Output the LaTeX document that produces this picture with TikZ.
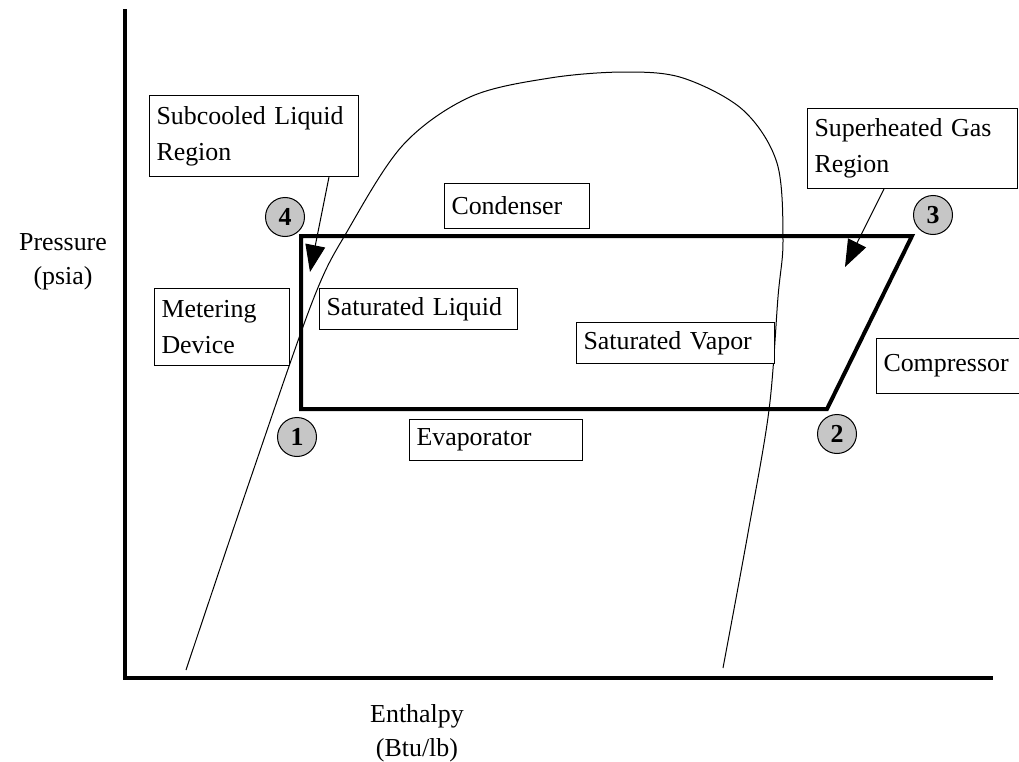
\documentclass[tikz,border=0pt]{standalone}
\usepackage{fontspec}
\setmainfont{Liberation Serif}
\usetikzlibrary{arrows.meta}

\newcommand{\ptnum}[1]{\raisebox{-3bp}{\bfseries #1}}

\begin{document}
\begin{tikzpicture}[x=0.5bp, y=-0.5bp,
    tag/.style={rectangle, draw, fill=white, line width=0.5bp, inner xsep=3.5bp, inner ysep=0pt,
                align=left, anchor=north west, font=\fontsize{13}{18}\selectfont},
    ptmark/.style={circle, draw, fill=gray!45, line width=0.5bp, minimum size=19.5bp, inner sep=0pt,
                   font=\fontsize{13}{15}\selectfont},
    axislbl/.style={align=center, font=\fontsize{13}{17}\selectfont},
    callout/.style={line width=0.5bp, -{Triangle[length=13.5bp,width=10bp]}}]
    \useasboundingbox (0,0) rectangle (1019,762);

    % axes
    \coordinate (origin) at (125,678);
    \coordinate (ytop) at (125,9);
    \coordinate (xend) at (993,678);
    \draw[line width=2bp] (ytop) -- (origin |- 0,680) (origin -| 123,0) -- (xend);
    \node[axislbl] (plbl) at (63,262) {Pressure\\(psia)};
    \node[axislbl] (hlbl) at (417,733) {Enthalpy\\(Btu/lb)};

    % saturation dome
    \draw[line width=0.5bp] plot[smooth, tension=0.55] coordinates {
        (186,670) (250,480) (313,300) (348,230) (403,145) (470,97) (550,78) (625,72)
        (683,78) (743,110) (777,163) (783,240) (778,297) (769,410) (748,533) (723,668)};

    % refrigeration cycle
    \coordinate (p1) at (301,409);
    \coordinate (p2) at (827,409);
    \coordinate (p3) at (912,236);
    \coordinate (p4) at (301,236);
    \draw[line width=2bp, line join=miter] (p1) -- (p2) -- (p3) -- (p4) -- cycle;

    \node[ptmark] (n1) at (297,437) {\ptnum{1}};
    \node[ptmark] (n2) at (837,434) {\ptnum{2}};
    \node[ptmark] (n3) at (933,215) {\ptnum{3}};
    \node[ptmark] (n4) at (285,217) {\ptnum{4}};

    % labels
    \node[tag, text width=97.5bp, minimum height=40.5bp] (subcool) at (149,95) {Subcooled Liquid\\Region};
    \node[tag, text width=65.5bp, minimum height=22.5bp] (cond) at (444,183) {Condenser};
    \node[tag, text width=98bp, minimum height=40bp] (superheat) at (807,108) {Superheated Gas\\Region};
    \node[tag, text width=60.5bp, minimum height=38.5bp] (meter) at (154,288) {Metering\\Device};
    \node[tag, text width=92bp, minimum height=20.5bp] (satliq) at (319,288) {Saturated Liquid};
    \node[tag, text width=92bp, minimum height=20.5bp] (satvap) at (576,322) {Saturated Vapor};
    \node[tag, text width=67.5bp, minimum height=27.5bp] (comp) at (876,338) {Compressor};
    \node[tag, text width=79.5bp, minimum height=20.5bp] (evap) at (409,419) {Evaporator};

    \coordinate (subtip) at (310,272);
    \coordinate (suptip) at (845,267);
    \draw[callout] ([xshift=-15bp]subcool.south east) -- (subtip);
    \draw[callout] ([xshift=38.5bp]superheat.south west) -- (suptip);
\end{tikzpicture}
\end{document}
